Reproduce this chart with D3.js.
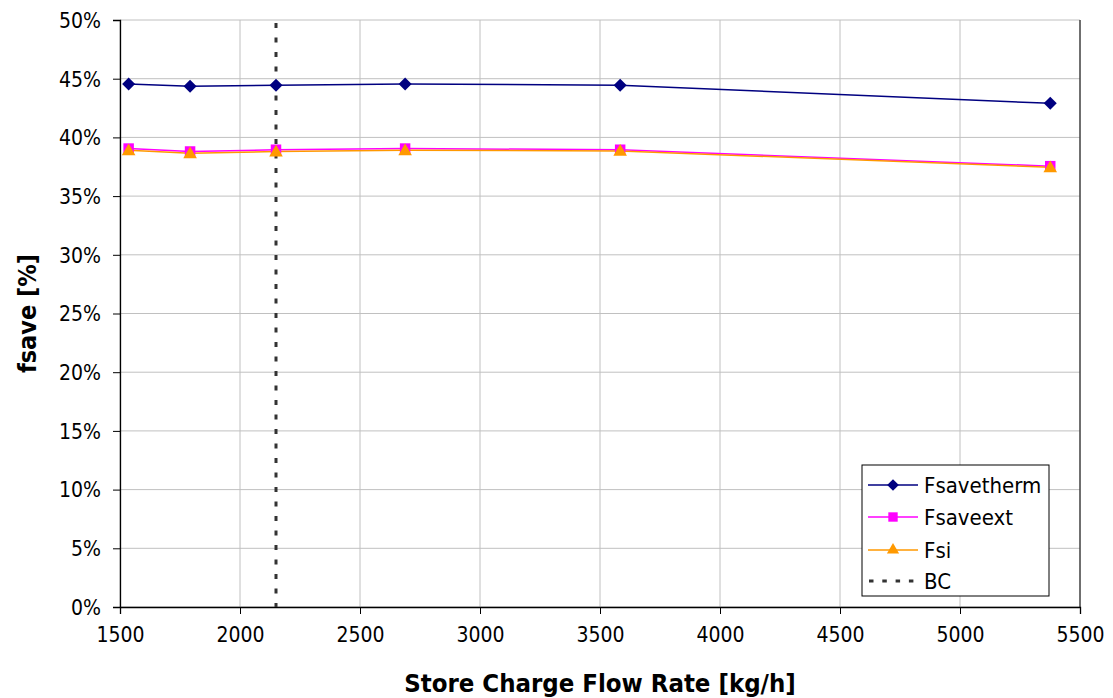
<!DOCTYPE html>
<html><head><meta charset="utf-8">
<script src="https://cdn.jsdelivr.net/npm/d3@7"></script>
<style>
body{margin:0;background:#fff;}
text{font-family:"DejaVu Sans Condensed","DejaVu Sans",sans-serif;}
</style></head>
<body><svg id="c" width="1113" height="698"></svg>
<script>
const flowRates = [1536, 1792, 2150, 2688, 3584, 5376];
const fsavetherm = [44.55, 44.35, 44.45, 44.55, 44.45, 42.9];
const fsaveext = [39.05, 38.8, 38.95, 39.05, 38.95, 37.55];
const fsi = [38.9, 38.65, 38.8, 38.9, 38.85, 37.45];
const bcFlow = 2150;
const xTicks = [1500, 2000, 2500, 3000, 3500, 4000, 4500, 5000, 5500];
const yTicks = [0, 5, 10, 15, 20, 25, 30, 35, 40, 45, 50];
const seriesNames = ["Fsavetherm", "Fsaveext", "Fsi", "BC"];

const svg = d3.select("#c");
const m = {l:120, r:33, t:20, b:91};
const W = 1113, H = 698;
const x = d3.scaleLinear().domain([1500, 5500]).range([m.l, W - m.r]);
const y = d3.scaleLinear().domain([0, 50]).range([H - m.b, m.t]);

// gridlines
svg.append("g").selectAll("line.h").data(yTicks).join("line")
  .attr("x1", m.l).attr("x2", W - m.r).attr("y1", d => y(d)).attr("y2", d => y(d))
  .attr("stroke", "#c0c0c0").attr("stroke-width", 1);
svg.append("g").selectAll("line.v").data(xTicks).join("line")
  .attr("x1", d => x(d)).attr("x2", d => x(d)).attr("y1", m.t).attr("y2", H - m.b)
  .attr("stroke", "#c0c0c0").attr("stroke-width", 1);
// right border
svg.append("line").attr("x1", W - m.r).attr("x2", W - m.r).attr("y1", m.t).attr("y2", H - m.b)
  .attr("stroke", "#000").attr("stroke-width", 1);

// axes
const yAxis = d3.axisLeft(y).tickValues(yTicks).tickFormat(d => d + "%").tickSizeOuter(0).tickSize(7).tickPadding(12);
const gy = svg.append("g").attr("transform", `translate(${m.l},0)`).call(yAxis);
const xAxis = d3.axisBottom(x).tickValues(xTicks).tickFormat(d3.format("d")).tickSizeOuter(0).tickSize(7).tickPadding(13);
const gx = svg.append("g").attr("transform", `translate(0,${H - m.b})`).call(xAxis);
[gx, gy].forEach(g => {
  g.selectAll("text").attr("font-size", 21).attr("fill", "#000")
    .style("font-family", '"DejaVu Sans Condensed","DejaVu Sans",sans-serif');
  g.select(".domain").attr("stroke", "#000").attr("stroke-width", 1.3);
  g.selectAll(".tick line").attr("stroke", "#000");
});
gy.selectAll("text").attr("dy", "0.35em");

// BC line
svg.append("line").attr("x1", x(bcFlow)).attr("x2", x(bcFlow)).attr("y1", m.t + 3).attr("y2", H - m.b)
  .attr("stroke", "#333").attr("stroke-width", 3).attr("stroke-dasharray", "5,9.5");

const diamond = {draw(ctx, size){ const r = Math.sqrt(size) / 2 * 1.414; ctx.moveTo(0,-r); ctx.lineTo(r,0); ctx.lineTo(0,r); ctx.lineTo(-r,0); ctx.closePath(); }};
const series = [
  {name: seriesNames[0], vals: fsavetherm, color: "#000080", sym: diamond, size: 85},
  {name: seriesNames[1], vals: fsaveext, color: "#ff00ff", sym: d3.symbolSquare, size: 110},
  {name: seriesNames[2], vals: fsi, color: "#ff9900", sym: d3.symbolTriangle, size: 80}
];
const line = d3.line().x(d => x(d[0])).y(d => y(d[1]));
series.forEach(s => {
  const pts = flowRates.map((f, i) => [f, s.vals[i]]);
  svg.append("path").attr("d", line(pts)).attr("fill", "none").attr("stroke", s.color).attr("stroke-width", 1.5);
});
series.forEach(s => {
  const pts = flowRates.map((f, i) => [f, s.vals[i]]);
  svg.append("g").selectAll("path").data(pts).join("path")
    .attr("d", d3.symbol(s.sym, s.size))
    .attr("transform", d => `translate(${x(d[0])},${y(d[1]) + (s.sym === d3.symbolTriangle ? 1 : 0)})`)
    .attr("fill", s.color);
});

// axis titles
svg.append("text").attr("x", (m.l + W - m.r) / 2).attr("y", 692).attr("text-anchor", "middle")
  .attr("font-size", 25.5).attr("font-weight", "bold").text("Store Charge Flow Rate [kg/h]");
svg.append("text").attr("transform", `translate(36,${(m.t + H - m.b) / 2}) rotate(-90)`)
  .attr("text-anchor", "middle").attr("font-size", 25).attr("font-weight", "bold").text("fsave [%]");

// legend
const lg = svg.append("g").attr("transform", "translate(862,465)");
lg.append("rect").attr("width", 187).attr("height", 131).attr("fill", "#fff").attr("stroke", "#000").attr("stroke-width", 1);
const rowsY = [20, 52, 85, 116];
series.forEach((s, i) => {
  lg.append("line").attr("x1", 6).attr("x2", 56).attr("y1", rowsY[i]).attr("y2", rowsY[i]).attr("stroke", s.color).attr("stroke-width", 1.5);
  lg.append("path").attr("d", d3.symbol(s.sym, s.size * 0.8)).attr("transform", `translate(31,${rowsY[i]})`).attr("fill", s.color);
  lg.append("text").attr("x", 62).attr("y", rowsY[i]).attr("dy", "0.35em").attr("font-size", 22).text(s.name);
});
lg.append("line").attr("x1", 7).attr("x2", 56).attr("y1", rowsY[3]).attr("y2", rowsY[3]).attr("stroke", "#333").attr("stroke-width", 3).attr("stroke-dasharray", "4.5,8.8");
lg.append("text").attr("x", 62).attr("y", rowsY[3]).attr("dy", "0.35em").attr("font-size", 22).text(seriesNames[3]);
</script></body></html>
